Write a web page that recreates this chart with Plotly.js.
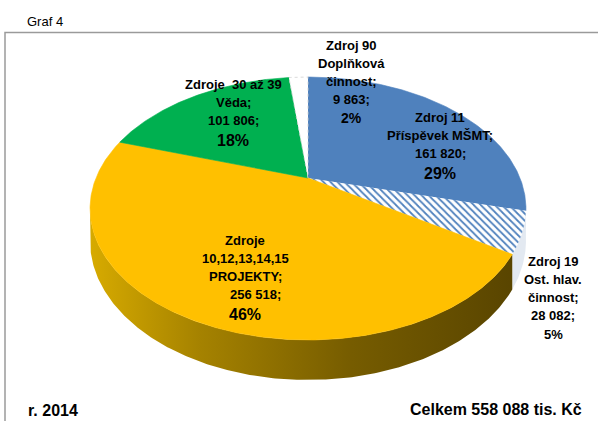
<!DOCTYPE html>
<html>
<head>
<meta charset="utf-8">
<script src="https://cdn.plot.ly/plotly-3.0.1.min.js"></script>
<style>html,body{margin:0;padding:0;background:#fff;}#chart{width:598px;height:421px;}</style>
</head>
<body>
<div id="chart"></div>
<script>
// ---- data ----
const categories = [
  "Zdroj 11\nPříspěvek MŠMT",
  "Zdroj 19\nOst. hlav.\nčinnost",
  "Zdroje\n10,12,13,14,15\nPROJEKTY",
  "Zdroje\u00a0\u00a030 až 39\nVěda",
  "Zdroj 90\nDoplňková\nčinnost"
];
const values = [161820, 28082, 256518, 101806, 9863];
const colors = ["#4f81bd", "#ffffff", "#ffc000", "#00b050", "#ffffff"];
const chartTitle = "Graf 4";
const yearText = "r. 2014";
const totalText = "Celkem 558 088 tis. Kč";

// ---- layout config (positions / styles) ----
const G = {cx: 308, cy: 178, A: 212, B: 124.4, p: 0.232, H: 30.7};
const labelAnchor = [[440, 117], [553, 261], [245, 240], [233, 84], [351, 45]];
const valueShift = [0, 0, 10, 0, 0];
const lineGap = 18.3;
const pctSize = [16, 13, 16, 16, 14];
const FONT = "Liberation Sans, Arial, sans-serif";

const total = values.reduce((a, b) => a + b, 0);

function proj(theta, down) {
  const r = theta * Math.PI / 180;
  const X = Math.sin(r), Z = Math.cos(r);
  const w = 1 / (1 + G.p * Z);
  return [G.cx + G.A * X * w, G.cy - G.B * Z * w + (down ? G.H * w : 0)];
}
function arc(a0, a1, down) {
  const pts = [];
  const n = Math.max(2, Math.ceil(Math.abs(a1 - a0) / 0.5));
  for (let i = 0; i <= n; i++) pts.push(proj(a0 + (a1 - a0) * i / n, down));
  return pts;
}
function fmt(v) { return String(v).replace(/\B(?=(\d{3})+(?!\d))/g, "\u00a0"); }

const visLo = Math.acos(-G.p) * 180 / Math.PI;
const visHi = 360 - visLo;

const sideTraces = [], topTraces = [];
let acc = 0;
values.forEach((v, i) => {
  const a0 = acc / total * 360;
  acc += v;
  const a1 = acc / total * 360;
  // side wall
  const s = Math.max(a0, visLo), e = Math.min(a1, visHi);
  if (e > s) {
    const pts = arc(s, e, false).concat(arc(e, s, true));
    const tr = {
      type: "scatter", mode: "lines", fill: "toself", hoverinfo: "skip",
      x: pts.map(q => q[0]), y: pts.map(q => q[1]),
      line: {width: 0}
    };
    if (i === 2) {
      tr.fillcolor = "#8a6a00";
      tr.fillgradient = {type: "horizontal", start: 92, stop: 525,
        colorscale: [[0, "#d6aa00"], [0.25, "#a58200"], [0.6, "#765c00"], [1, "#574300"]]};
    } else if (i === 1) {
      tr.fillcolor = "#e3e9f1";
    } else {
      tr.fillcolor = "#3d6494";
    }
    sideTraces.push(tr);
  }
  // top surface
  const pts = [[G.cx, G.cy]].concat(arc(a0, a1, false)).concat([[G.cx, G.cy]]);
  const tt = {
    type: "scatter", mode: "lines", fill: "toself", hoverinfo: "skip",
    x: pts.map(q => q[0]), y: pts.map(q => q[1]),
    fillcolor: colors[i],
    line: {width: 0.6, color: colors[i]}
  };
  if (i === 1) {
    tt.fillpattern = {shape: "\\", fgcolor: "#4f81bd", bgcolor: "#ffffff", size: 5, solidity: 0.35};
    tt.line = {width: 0};
  }
  if (i === 4) {
    tt.line = {width: 0.8, color: "#d0d0d0", dash: "dot"};
  }
  topTraces.push(tt);
});

const annotations = [];
categories.forEach((c, i) => {
  const lines = c.split("\n");
  lines[lines.length - 1] += ";";
  const nName = lines.length;
  lines.push(fmt(values[i]) + ";");
  const [ax, ay] = labelAnchor[i];
  lines.forEach((t, k) => {
    annotations.push({x: ax + (k === nName ? valueShift[i] : 0), y: ay + k * lineGap, xref: "x", yref: "y",
      text: "<b>" + t + "</b>", showarrow: false, xanchor: "center", yanchor: "middle",
      font: {family: FONT, size: 13, color: "#000"}});
  });
  const pct = Math.round(values[i] / total * 100) + "%";
  annotations.push({x: ax, y: ay + lines.length * lineGap + (pctSize[i] > 14 ? 1.5 : 0), xref: "x", yref: "y",
    text: "<b>" + pct + "</b>", showarrow: false, xanchor: "center", yanchor: "middle",
    font: {family: FONT, size: pctSize[i], color: "#000"}});
});
annotations.push({x: 25, y: 21, xref: "x", yref: "y", text: chartTitle, showarrow: false,
  xanchor: "left", yanchor: "middle", font: {family: FONT, size: 13, color: "#000"}});
annotations.push({x: 26, y: 410, xref: "x", yref: "y", text: "<b>" + yearText + "</b>", showarrow: false,
  xanchor: "left", yanchor: "middle", font: {family: FONT, size: 16, color: "#000"}});
annotations.push({x: 584, y: 409, xref: "x", yref: "y", text: "<b>" + totalText + "</b>", showarrow: false,
  xanchor: "right", yanchor: "middle", font: {family: FONT, size: 16, color: "#000"}});

const layout = {
  width: 598, height: 421,
  margin: {l: 0, r: 0, t: 0, b: 0},
  paper_bgcolor: "#ffffff", plot_bgcolor: "#ffffff",
  showlegend: false,
  xaxis: {range: [0, 598], visible: false, fixedrange: true},
  yaxis: {range: [421, 0], visible: false, fixedrange: true},
  shapes: [
    {type: "rect", xref: "x", yref: "y", x0: 5, x1: 640, y0: 32.5, y1: 470,
     line: {color: "#9a9a9a", width: 1.5}, fillcolor: "rgba(0,0,0,0)", layer: "below"}
  ],
  annotations: annotations
};

Plotly.newPlot("chart", sideTraces.concat(topTraces), layout, {displayModeBar: false, staticPlot: true});
</script>
</body>
</html>
